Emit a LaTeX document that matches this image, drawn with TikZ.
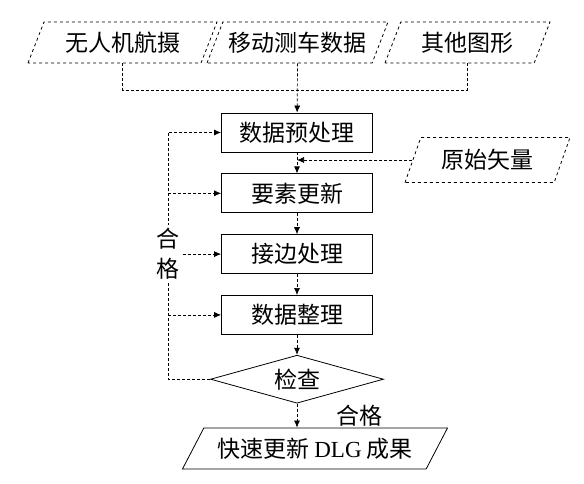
\documentclass[tikz,border=0pt]{standalone}
\usepackage{fontspec}
\setmainfont{Liberation Serif}
\newfontfamily\cjk{Noto Sans CJK SC}
\usetikzlibrary{arrows.meta,positioning,shapes.geometric}

\begin{document}
\begin{tikzpicture}[
    x=1pt, y=-1pt,
    node distance=21pt,
    font=\cjk\fontsize{23}{30}\selectfont,
    source/.style={trapezium, trapezium left angle=58, trapezium right angle=122,
                   trapezium stretches body, draw=black, dashed, line width=0.8pt,
                   minimum height=41pt, inner sep=2pt},
    task/.style={rectangle, draw=black, line width=0.8pt,
                 minimum width=151pt, minimum height=39pt},
    test/.style={diamond, aspect=3.6, draw=black, line width=0.8pt,
                 minimum width=173pt, minimum height=48pt, inner sep=0pt},
    link/.style={densely dashed, line width=0.7pt},
    arrow/.style={link, -{Latex[length=7pt,width=6pt]}},
    lbl/.style={fill=white, inner sep=3pt, align=center}
]
    \useasboundingbox (0,0) rectangle (584,483);

    % data sources
    \node[source, minimum width=189pt] (uav) at (122.5,42.5) {无人机航摄};
    \node[source, minimum width=181pt] (car) at (297.5,42.5) {移动测车数据};
    \node[source, minimum width=165pt] (other) at (467.5,42.5) {其他图形};
    \coordinate (join) at (297,90);

    % main chain
    \node[task] (prep) at (297,132.5) {数据预处理};
    \node[task, below=of prep] (update) {要素更新};
    \node[task, below=of update] (edge) {接边处理};
    \node[task, below=of edge] (tidy) {数据整理};
    \node[test, below=20pt of tidy] (check) {检查};
    \node[source, solid, trapezium left angle=50, trapezium right angle=130,
          minimum width=265pt, below=24pt of check, xshift=18pt] (result)
          {快速更新 {\rmfamily DLG} 成果};
    \node[source, minimum width=165pt, minimum height=45pt] (vector) at (487.5,160) {原始矢量};

    \draw[link] (uav.south) |- (join);
    \draw[link] (other.south) |- (join);
    \draw[arrow] (car.south) -- (prep);
    \draw[arrow] (prep) -- (update);
    \draw[arrow] (vector.west) -- (vector.west -| prep.south);
    \draw[arrow] (update) -- (edge);
    \draw[arrow] (edge) -- (tidy);
    \draw[arrow] (tidy) -- (check);
    \draw[arrow] (check.south) -- node[right=36pt] (pass) {合格} (check.south |- result.north);

    % feedback loop
    \draw[arrow] (check.west) -- ++(-42,0) coordinate (back) |- (prep.west);
    \draw[arrow] (back |- update.west) -- (update.west);
    \draw[arrow] (back |- tidy.west) -- (tidy.west);
    \node[lbl] (ok) at (back |- edge.west) {合\\格};
    \draw[arrow] (ok.east) -- (edge.west);
\end{tikzpicture}
\end{document}
